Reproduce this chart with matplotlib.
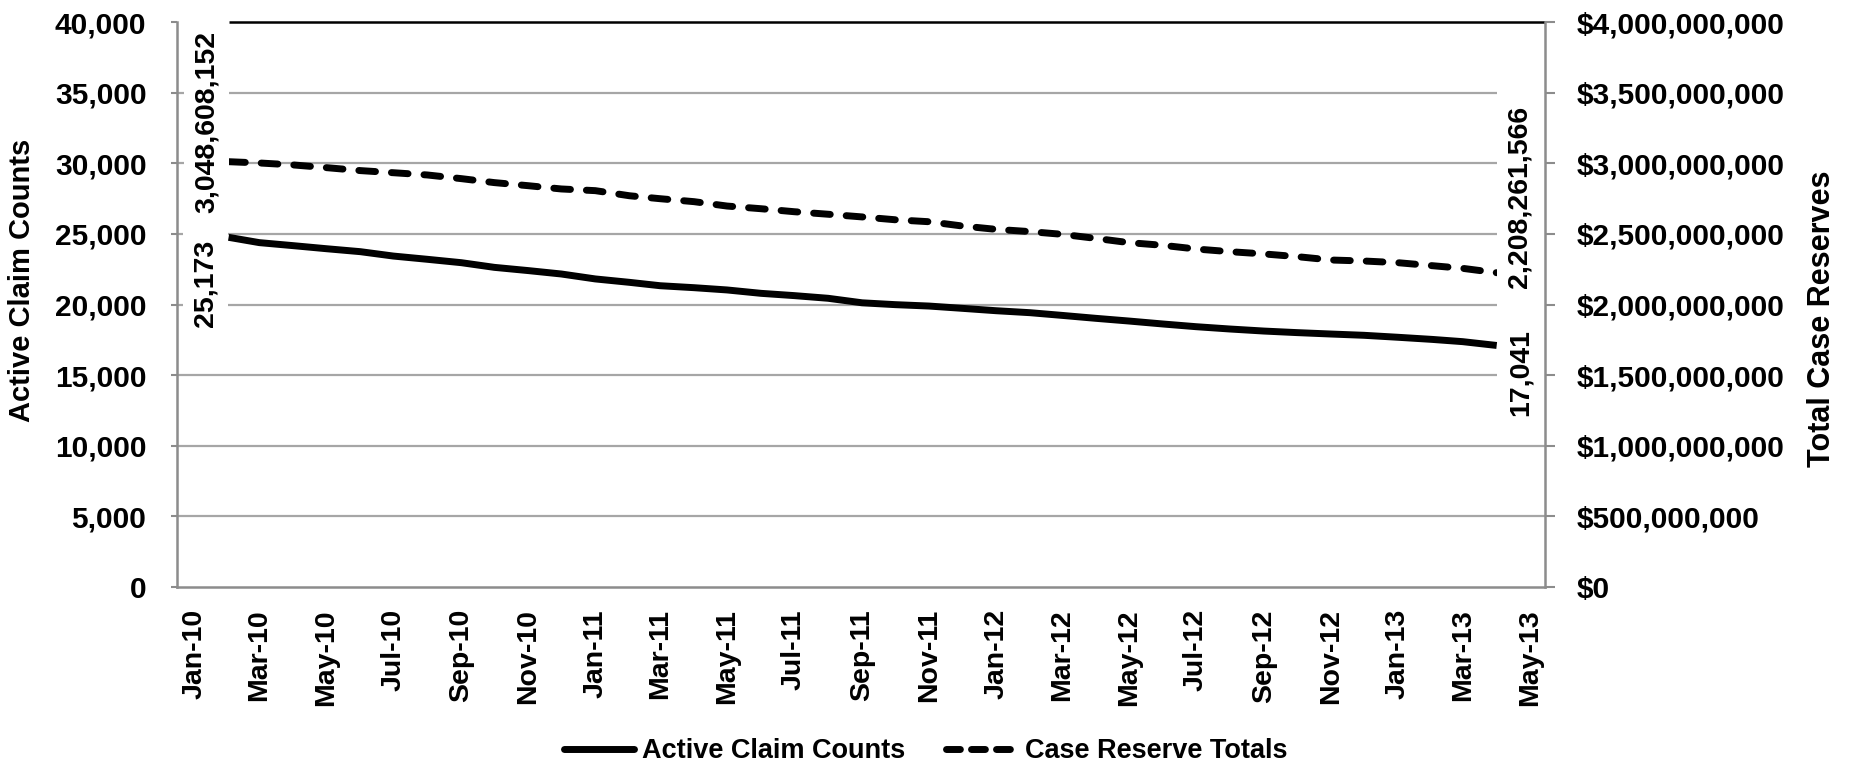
import matplotlib
matplotlib.use("Agg")
import matplotlib.pyplot as plt
from matplotlib import font_manager
from matplotlib.lines import Line2D
import pandas as pd
import datetime as dt

# ---------------- data ----------------
start_month = "2010-02-01"
n_months = 39
active_claims = [24756, 24380, 24165, 23950, 23740, 23430, 23200, 22960, 22630, 22400,
                 22160, 21810, 21570, 21330, 21190, 21030, 20790, 20630, 20440, 20120,
                 19990, 19890, 19730, 19560, 19420, 19230, 19020, 18830, 18620, 18430,
                 18265, 18120, 18010, 17910, 17820, 17680, 17530, 17370, 17100]
case_reserves = [3.011e9, 3.002e9, 2.988e9, 2.969e9, 2.948e9, 2.933e9, 2.917e9, 2.891e9,
                 2.863e9, 2.841e9, 2.818e9, 2.806e9, 2.770e9, 2.749e9, 2.728e9, 2.697e9,
                 2.678e9, 2.657e9, 2.639e9, 2.620e9, 2.600e9, 2.586e9, 2.556e9, 2.532e9,
                 2.516e9, 2.497e9, 2.468e9, 2.438e9, 2.419e9, 2.393e9, 2.374e9, 2.358e9,
                 2.339e9, 2.315e9, 2.308e9, 2.296e9, 2.275e9, 2.256e9, 2.225e9]
tick_labels = ["Jan-10", "Mar-10", "May-10", "Jul-10", "Sep-10", "Nov-10", "Jan-11",
               "Mar-11", "May-11", "Jul-11", "Sep-11", "Nov-11", "Jan-12", "Mar-12",
               "May-12", "Jul-12", "Sep-12", "Nov-12", "Jan-13", "Mar-13", "May-13"]
label_first_claims = "25,173"
label_last_claims = "17,041"
label_first_reserves = "3,048,608,152"
label_last_reserves = "2,208,261,566"

dates = pd.date_range(start_month, periods=n_months, freq="MS")
tick_dates = pd.date_range("2010-01-01", periods=len(tick_labels), freq="2MS")

# ---------------- fonts ----------------
names = {f.name for f in font_manager.fontManager.ttflist}
base = "Liberation Sans" if "Liberation Sans" in names else "DejaVu Sans"
narrow = "Liberation Sans Narrow" if "Liberation Sans Narrow" in names else base
plt.rcParams["font.family"] = [base, "DejaVu Sans"]

GRID = "#A6A6A6"
SPINE = "#8C8C8C"

fig = plt.figure(figsize=(18.51, 7.70), dpi=100)
ax = fig.add_axes([177 / 1851, 1 - 587 / 770, (1545 - 177) / 1851, (587 - 22) / 770])
ax2 = ax.twinx()

xmin, xmax = dt.datetime(2009, 12, 16), dt.datetime(2013, 5, 15)

# primary series
ax.plot(dates, active_claims, color="black", lw=5.0, solid_capstyle="butt",
        solid_joinstyle="round", zorder=3)
# secondary series
ax2.plot(dates, case_reserves, color="black", lw=5.0, dashes=(2.4, 2.3),
         dash_capstyle="round", zorder=3)

ax.set_ylim(0, 40000)
ax2.set_ylim(0, 4e9)
ax.set_xlim(xmin, xmax)

ax.set_yticks(range(0, 40001, 5000))
ax.set_yticklabels([f"{v:,}" for v in range(0, 40001, 5000)])
ax2.set_yticks([i * 5e8 for i in range(9)])
ax2.set_yticklabels([f"${int(i * 5e8):,}" for i in range(9)])

ax.set_xticks(tick_dates)
ax.set_xticklabels(tick_labels, rotation=90, va="top", ha="center")

# gridlines
for v in range(5000, 40000, 5000):
    right_end = xmax if v <= 10000 else dates[-1]
    ax.hlines(v, xmin, right_end, color=GRID, lw=1.6, zorder=1)
ax.hlines(40000, dates[0], xmax, color="black", lw=1.8, zorder=1, clip_on=False)

for a in (ax, ax2):
    a.spines["top"].set_visible(False)
    for s in ("left", "right", "bottom"):
        a.spines[s].set_color(SPINE)
        a.spines[s].set_linewidth(1.8)
ax.spines["right"].set_visible(False)
ax2.spines["left"].set_visible(False)
ax2.spines["bottom"].set_visible(False)

ax.tick_params(axis="y", length=4, width=1.5, color=SPINE, pad=18, labelsize=21.5)
ax.tick_params(axis="x", length=0, pad=16, labelsize=20.5)
ax2.tick_params(axis="y", length=7, width=1.5, color=SPINE, pad=16, labelsize=21.5)
for lab in ax.get_xticklabels() + ax.get_yticklabels() + ax2.get_yticklabels():
    lab.set_fontweight("bold")

# data labels
box = dict(boxstyle="square,pad=0.33", fc="white", ec="none")
lab_kw = dict(rotation=90, ha="center", va="center", fontsize=20.5, fontweight="bold",
              bbox=box, zorder=10, clip_on=False)
ax2.text(dt.datetime(2010, 1, 12), 3.292e9, label_first_reserves, **lab_kw)
ax2.text(dt.datetime(2010, 1, 11), 2.152e9, label_first_claims, **lab_kw)
ax2.text(dt.datetime(2013, 4, 22), 2.761e9, label_last_reserves, **lab_kw)
ax2.text(dt.datetime(2013, 4, 23), 1.515e9, label_last_claims, **lab_kw)

# axis titles
fig.text(22 / 1851, 1 - 280 / 770, "Active Claim Counts", rotation=90, ha="center",
         va="center", fontsize=21, fontweight="bold", family=[narrow, base])
fig.text(1822 / 1851, 1 - 319 / 770, "Total Case Reserves", rotation=90, ha="center",
         va="center", fontsize=22, fontweight="bold", family=[narrow, base])

# legend
handles = [Line2D([], [], color="black", lw=5.0, solid_capstyle="round"),
           Line2D([], [], color="black", lw=5.0, dashes=(2.0, 1.6), dash_capstyle="round")]
leg = fig.legend(handles, ["Active Claim Counts", "Case Reserve Totals"], loc="center",
                 bbox_to_anchor=(0.5, 1 - 751 / 770), ncol=2, frameon=False,
                 handlelength=2.6, handletextpad=0.3, columnspacing=1.5,
                 prop={"family": [narrow, base], "weight": "bold", "size": 19.5})

fig.savefig("out.png", dpi=100, facecolor="white")
